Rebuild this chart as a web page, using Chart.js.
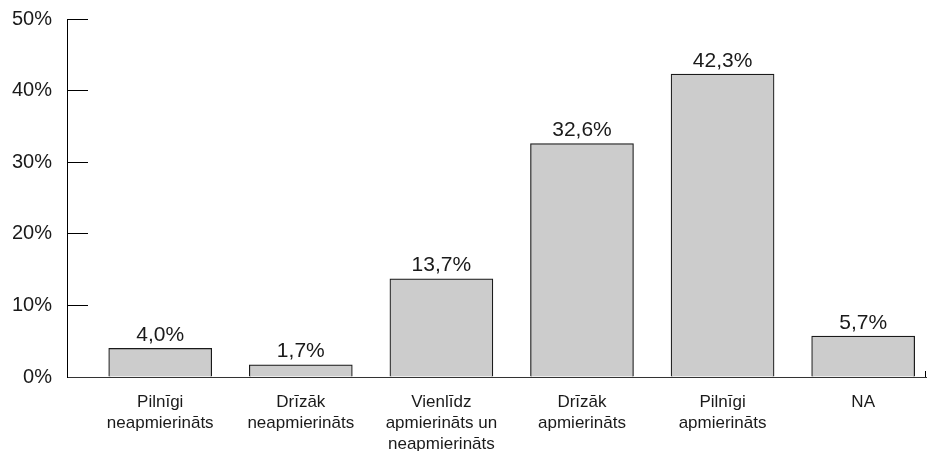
<!DOCTYPE html>
<html>
<head>
<meta charset="utf-8">
<script src="https://cdn.jsdelivr.net/npm/chart.js@4/dist/chart.umd.min.js"></script>
<style>
  html, body { margin: 0; padding: 0; background: #fff; }
  #wrap { width: 927px; height: 451px; }
</style>
</head>
<body>
<div id="wrap"><canvas id="chart"></canvas></div>
<script>
// categories (multi-line labels) and values in %
var categories = [
    ['Pilnīgi', 'neapmierināts'],
    ['Drīzāk', 'neapmierināts'],
    ['Vienlīdz', 'apmierināts un', 'neapmierināts'],
    ['Drīzāk', 'apmierināts'],
    ['Pilnīgi', 'apmierināts'],
    ['NA']
];
var values = [4.0, 1.7, 13.7, 32.6, 42.3, 5.7];
var yTicks = [0, 10, 20, 30, 40, 50];

var FONT = '"Liberation Sans", Arial, Helvetica, sans-serif';

// value labels above bars + little end tick on the x axis
const barLabels = {
    id: 'barLabels',
    afterDatasetsDraw(chart) {
        const ctx = chart.ctx;
        const meta = chart.getDatasetMeta(0);
        ctx.save();
        ctx.fillStyle = '#1a1a1a';
        ctx.font = '21px ' + FONT;
        ctx.textAlign = 'center';
        ctx.textBaseline = 'alphabetic';
        meta.data.forEach((bar, i) => {
            ctx.fillText(values[i].toFixed(1).replace('.', ',') + '%', bar.x, bar.y - 7.5);
        });
        const a = chart.chartArea;
        ctx.strokeStyle = '#000';
        ctx.lineWidth = 1;
        ctx.beginPath();
        ctx.moveTo(a.right - 0.5, a.bottom);
        ctx.lineTo(a.right - 0.5, a.bottom - 6);
        ctx.stroke();
        ctx.restore();
    }
};

const ctx = document.getElementById('chart');
var chart = new Chart(ctx, {
    type: 'bar',
    data: {
        datasets: [{
            data: values.map((v, i) => ({ x: i, y: v })),
            backgroundColor: '#cccccc',
            borderColor: '#1a1a1a',
            borderWidth: 1.2,
            barThickness: 103
        }]
    },
    options: {
        responsive: true,
        maintainAspectRatio: false,
        animation: false,
        layout: { padding: { top: 19, right: 1, left: 0, bottom: 0 } },
        plugins: { legend: { display: false }, tooltip: { enabled: false } },
        scales: {
            x: {
                type: 'linear',
                offset: false,
                min: -0.663,
                max: 5.447,
                afterBuildTicks: axis => { axis.ticks = categories.map((c, i) => ({ value: i })); },
                afterFit: axis => { axis.height = 74; axis.paddingLeft = 0; axis.paddingRight = 0; },
                grid: { display: false, drawTicks: false },
                border: { display: true, color: '#333', width: 1 },
                ticks: {
                    autoSkip: false,
                    maxRotation: 0,
                    padding: 15,
                    color: '#1a1a1a',
                    font: { family: FONT, size: 17, lineHeight: 1.24 },
                    callback: v => categories[v]
                }
            },
            y: {
                min: 0,
                max: 50,
                afterBuildTicks: axis => { axis.ticks = yTicks.map(v => ({ value: v })); },
                afterFit: axis => { axis.width = 67; axis.paddingTop = 0; axis.paddingBottom = 0; },
                grid: { drawOnChartArea: false, tickLength: -21, color: '#000', lineWidth: 1 },
                border: { display: true, color: '#000', width: 1 },
                ticks: {
                    padding: 36,
                    color: '#1a1a1a',
                    font: { family: FONT, size: 20 },
                    callback: v => v + '%'
                }
            }
        }
    },
    plugins: [barLabels]
});
</script>
</body>
</html>
